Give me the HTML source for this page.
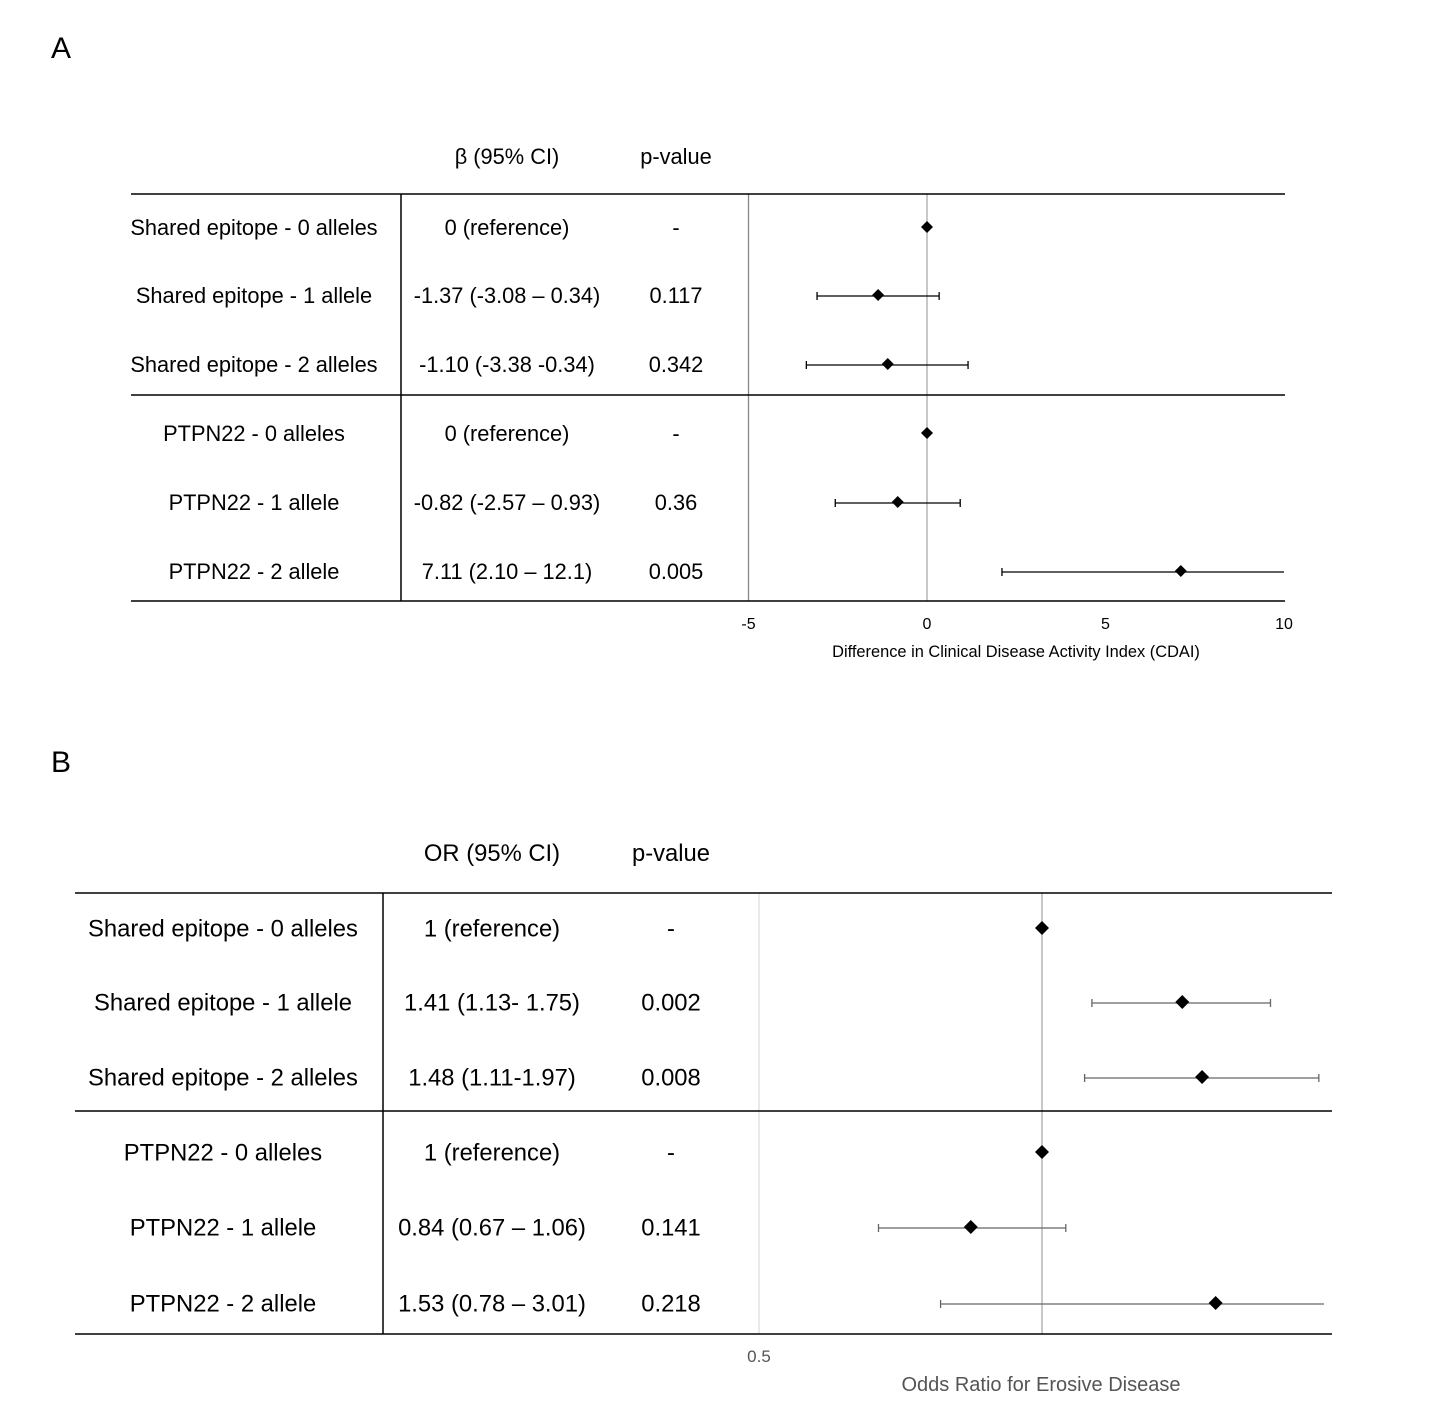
<!DOCTYPE html>
<html><head><meta charset="utf-8">
<style>
html,body{margin:0;padding:0;background:#fff;}
svg{display:block;font-family:"Liberation Sans",Arial,sans-serif;}
</style></head>
<body>
<svg id="fig" width="1456" height="1418" viewBox="0 0 1456 1418" xmlns="http://www.w3.org/2000/svg">
<text x="51" y="58" font-size="30">A</text>
<text x="51" y="772" font-size="30">B</text>
<g id="pa"></g>
<g id="pb"></g>
</svg>
<script>
// Panel A data
const labelsA = ["Shared epitope - 0 alleles","Shared epitope - 1 allele","Shared epitope - 2 alleles","PTPN22 - 0 alleles","PTPN22 - 1 allele","PTPN22 - 2 allele"];
const ciTextA = ["0 (reference)","-1.37 (-3.08 \u2013 0.34)","-1.10 (-3.38 -0.34)","0 (reference)","-0.82 (-2.57 \u2013 0.93)","7.11 (2.10 \u2013 12.1)"];
const pTextA = ["-","0.117","0.342","-","0.36","0.005"];
const estA = [0,-1.37,-1.10,0,-0.82,7.11];
const lowA = [null,-3.08,-3.38,null,-2.57,2.10];
const highA = [null,0.34,1.15,null,0.93,12.1];
const ticksA = [-5,0,5,10];
// Panel B data
const labelsB = ["Shared epitope - 0 alleles","Shared epitope - 1 allele","Shared epitope - 2 alleles","PTPN22 - 0 alleles","PTPN22 - 1 allele","PTPN22 - 2 allele"];
const ciTextB = ["1 (reference)","1.41 (1.13- 1.75)","1.48 (1.11-1.97)","1 (reference)","0.84 (0.67 \u2013 1.06)","1.53 (0.78 \u2013 3.01)"];
const pTextB = ["-","0.002","0.008","-","0.141","0.218"];
const estB = [1,1.41,1.48,1,0.84,1.53];
const lowB = [null,1.13,1.11,null,0.67,0.78];
const highB = [null,1.75,1.97,null,1.06,3.01];
const ticksB = [0.5];

const NS="http://www.w3.org/2000/svg";
function mk(parent,tag,attrs,txt){const e=document.createElementNS(NS,tag);for(const k in attrs)e.setAttribute(k,attrs[k]);if(txt!==undefined)e.textContent=txt;parent.appendChild(e);return e;}

function panel(g,cfg){
  const {labels,ciText,pText,est,low,high,ticks,xs,rowY,fs,colLabelX,colCIX,colPX,x0,x1,xv,top,mid,bot,hdrY,ciHdr,grids,clipMax,clipMin,ds,errColor,axisTitle,axisTitleX,axisTitleY,tickY,tickFs,tickColor,titleColor,titleFs}=cfg;
  let t=mk(g,'text',{x:colCIX,y:hdrY,'font-size':fs,'text-anchor':'middle'},ciHdr);
  
  
  t=mk(g,'text',{x:colPX,y:hdrY,'font-size':fs,'text-anchor':'middle'},'p-value');
  
  
  grids.forEach(gr=>{
    const l=mk(g,'line',{x1:xs(gr.v),x2:xs(gr.v),y1:top,y2:bot,stroke:gr.c,'stroke-width':1.3});
    
    
  });
  [top,mid,bot].forEach((y,i)=>{
    const l=mk(g,'line',{x1:x0,x2:x1,y1:y,y2:y,stroke:'#000','stroke-width':1.5});
    
    
  });
  let v=mk(g,'line',{x1:xv,x2:xv,y1:top,y2:bot,stroke:'#000','stroke-width':1.5});
  
  
  labels.forEach((lab,i)=>{
    const y=rowY[i];
    let a=mk(g,'text',{x:colLabelX,y:y+fs*0.36,'font-size':fs,'text-anchor':'middle'},lab);
    
    
    a=mk(g,'text',{x:colCIX,y:y+fs*0.36,'font-size':fs,'text-anchor':'middle'},ciText[i]);
    
    
    a=mk(g,'text',{x:colPX,y:y+fs*0.36,'font-size':fs,'text-anchor':'middle'},pText[i]);
    
    
    if(low[i]!==null){
      const lx=xs(Math.max(low[i],clipMin)), hxRaw=high[i], hx=xs(Math.min(hxRaw,clipMax));
      const ey=y+1;
      const eg=mk(g,'g',{});
      
      
      mk(eg,'line',{x1:lx,x2:hx,y1:ey,y2:ey,stroke:errColor,'stroke-width':1.3});
      mk(eg,'line',{x1:lx,x2:lx,y1:ey-4,y2:ey+4,stroke:errColor,'stroke-width':1.3});
      if(hxRaw<=clipMax) mk(eg,'line',{x1:hx,x2:hx,y1:ey-4,y2:ey+4,stroke:errColor,'stroke-width':1.3});
    }
    const cx=xs(est[i]);
    const d=mk(g,'polygon',{points:`${cx},${y-ds} ${cx+ds},${y} ${cx},${y+ds} ${cx-ds},${y}`,fill:'#000'});
    
    
  });
  ticks.forEach(tk=>{
    const a=mk(g,'text',{x:xs(tk),y:tickY,'font-size':tickFs,'text-anchor':'middle',fill:tickColor},String(tk));
    
    
  });
  const at=mk(g,'text',{x:axisTitleX,y:axisTitleY,'font-size':titleFs,'text-anchor':'middle',fill:titleColor},axisTitle);
  
  
}

const xsA=v=>927+v*35.7;
panel(document.getElementById('pa'),{labels:labelsA,ciText:ciTextA,pText:pTextA,est:estA,low:lowA,high:highA,ticks:ticksA,xs:xsA,
  rowY:[227,295,364,433,502,571],fs:21.8,colLabelX:254,colCIX:507,colPX:676,x0:131,x1:1285,xv:401,top:194,mid:395,bot:601,hdrY:164,ciHdr:'\u03B2  (95% CI)',
  grids:[{v:-5,c:'#888'},{v:0,c:'#aaa'}],clipMax:10,clipMin:-5,ds:6,errColor:'#000',
  axisTitle:'Difference in Clinical Disease Activity Index (CDAI)',axisTitleX:1016,axisTitleY:657,tickY:629,tickFs:16,tickColor:'#000',titleColor:'#000',titleFs:16.4});

const xsB=v=>1042+Math.log2(v)*283;
panel(document.getElementById('pb'),{labels:labelsB,ciText:ciTextB,pText:pTextB,est:estB,low:lowB,high:highB,ticks:ticksB,xs:xsB,
  rowY:[928,1002,1077,1152,1227,1303],fs:23.8,colLabelX:223,colCIX:492,colPX:671,x0:75,x1:1332,xv:383,top:893,mid:1111,bot:1334,hdrY:861,ciHdr:'OR (95% CI)',
  grids:[{v:0.5,c:'#ddd'},{v:1,c:'#aaa'}],clipMax:1.995,clipMin:0.1,ds:7,errColor:'#666',
  axisTitle:'Odds Ratio for Erosive Disease',axisTitleX:1041,axisTitleY:1391,tickY:1362,tickFs:17,tickColor:'#555',titleColor:'#555',titleFs:20});
</script>
</body></html>
